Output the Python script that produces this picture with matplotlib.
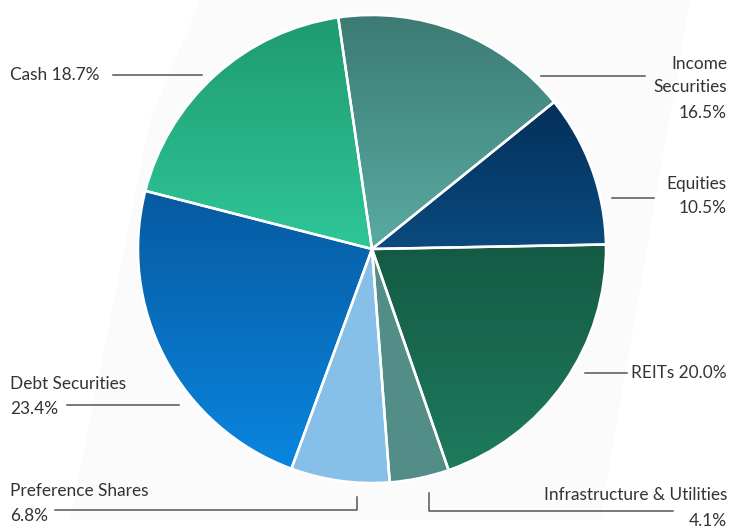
import numpy as np
import matplotlib
matplotlib.use('Agg')
import matplotlib.pyplot as plt
from matplotlib.colors import LinearSegmentedColormap
from matplotlib.patches import Polygon

# Data (clockwise from top)
labels = ['Income Securities', 'Equities', 'REITs', 'Infrastructure & Utilities',
          'Preference Shares', 'Debt Securities', 'Cash']
shares = [16.5, 10.5, 20.0, 4.1, 6.8, 23.4, 18.7]
# gradient colours, top -> bottom
top_colors = ['#3c7b74', '#033059', '#145a44', '#528e87', '#86c0e8', '#065aa0', '#1f9a70']
bottom_colors = ['#59aba2', '#0b4a7f', '#1e7b5d', '#528e87', '#86c0e8', '#0a86df', '#2fc798']

W, H = 741, 529
fig = plt.figure(figsize=(W / 100, H / 100), dpi=100)
ax = fig.add_axes([0, 0, 1, 1])

# very faint background shape behind the pie
ax.add_patch(Polygon([(200, 0), (690, 0), (600, 520), (70, 520), (150, 120)],
                     closed=True, facecolor='#fbfbfb', edgecolor='none', zorder=0))

# pie in pixel coordinates (y axis inverted below, so counterclock draws clockwise)
cx, cy, r = 372, 249, 234
wedges, _ = ax.pie(shares, center=(cx, cy), radius=r, startangle=261.7,
                   counterclock=True,
                   wedgeprops=dict(edgecolor='white', linewidth=1.8))

for w, c0, c1 in zip(wedges, top_colors, bottom_colors):
    ext = w.get_path().get_extents()
    cmap = LinearSegmentedColormap.from_list('g', [c0, c1])
    grad = np.linspace(0, 1, 256).reshape(-1, 1)
    im = ax.imshow(grad, cmap=cmap, aspect='auto', origin='upper',
                   extent=(ext.x0, ext.x1, ext.y1, ext.y0), zorder=1,
                   interpolation='bilinear')
    im.set_clip_path(w)
    w.set_facecolor('none')
    w.set_zorder(2)

ax.set_xlim(0, W)
ax.set_ylim(H, 0)
ax.set_aspect('equal')
ax.axis('off')

txt = dict(fontsize=12.4, color='#333333', family=['Lato', 'DejaVu Sans'])
lc = dict(color='#555555', linewidth=1.1)

# Cash
ax.text(10, 75, 'Cash 18.7%', ha='left', va='center', **txt)
ax.plot([113, 202], [75, 75], **lc)

# Income Securities
ax.text(727, 64, 'Income', ha='right', va='center', **txt)
ax.text(727, 87, 'Securities', ha='right', va='center', **txt)
ax.text(727, 113, '16.5%', ha='right', va='center', **txt)
ax.plot([541, 645], [76, 76], **lc)

# Equities
ax.text(727, 184, 'Equities', ha='right', va='center', **txt)
ax.text(727, 208, '10.5%', ha='right', va='center', **txt)
ax.plot([612, 654], [198, 198], **lc)

# REITs
ax.text(727, 373, 'REITs 20.0%', ha='right', va='center', **txt)
ax.plot([585, 627], [373, 373], **lc)

# Infrastructure & Utilities
ax.text(727, 495, 'Infrastructure & Utilities', ha='right', va='center', **txt)
ax.text(727, 521, '4.1%', ha='right', va='center', **txt)
ax.plot([429, 429, 673], [493, 511, 511], **lc)

# Preference Shares
ax.text(10, 491, 'Preference Shares', ha='left', va='center', **txt)
ax.text(10, 516, '6.8%', ha='left', va='center', **txt)
ax.plot([55, 357, 357], [510, 510, 497], **lc)

# Debt Securities
ax.text(10, 384, 'Debt Securities', ha='left', va='center', **txt)
ax.text(10, 409, '23.4%', ha='left', va='center', **txt)
ax.plot([67, 179], [405, 405], **lc)

fig.savefig('out.png', dpi=100, facecolor='white')
